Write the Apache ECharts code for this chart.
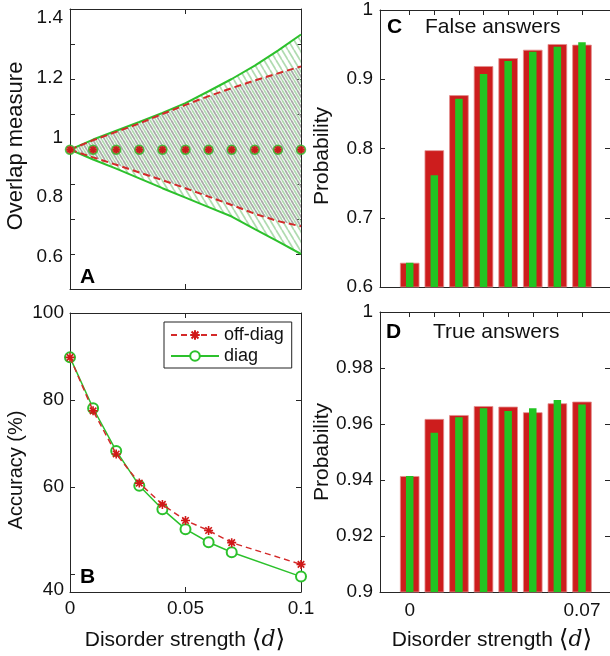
<!DOCTYPE html>
<html><head><meta charset="utf-8">
<script src="https://cdn.jsdelivr.net/npm/echarts@6/dist/echarts.min.js"></script>
<style>html,body{margin:0;padding:0;background:#fff}#c{width:610px;height:656px}</style>
</head><body><div id="c"></div>
<script>
// ---- Panel A: overlap measure vs disorder strength ----
const disorderA = [0, 0.01, 0.02, 0.03, 0.04, 0.05, 0.06, 0.07, 0.08, 0.09, 0.1];
const overlapMeanDiag = [0.998, 0.998, 0.998, 0.998, 0.998, 0.998, 0.998, 0.998, 0.998, 0.998, 0.998];
const overlapMeanOff  = [0.998, 0.998, 0.998, 0.998, 0.998, 0.998, 0.998, 0.998, 0.998, 0.998, 0.998];
const diagUpper = [0.998, 1.027, 1.052, 1.077, 1.103, 1.131, 1.165, 1.200, 1.238, 1.281, 1.327];
const diagLower = [0.998, 0.970, 0.944, 0.916, 0.888, 0.861, 0.834, 0.807, 0.771, 0.736, 0.700];
const offUpper  = [0.998, 1.025, 1.049, 1.073, 1.100, 1.126, 1.151, 1.174, 1.196, 1.216, 1.236];
const offLower  = [0.998, 0.976, 0.955, 0.933, 0.911, 0.888, 0.864, 0.840, 0.815, 0.794, 0.779];
const ticksA = [0.6, 0.8, 1, 1.2, 1.4];

// ---- Panel B: accuracy ----
const disorderB = [0, 0.01, 0.02, 0.03, 0.04, 0.05, 0.06, 0.07, 0.1];
const accuracyOff  = [89.8, 77.5, 67.6, 60.9, 56.0, 52.3, 50.0, 47.2, 42.2];
const accuracyDiag = [89.8, 78.1, 68.3, 60.3, 54.9, 50.3, 47.3, 45.0, 39.4];
const ticksB = [40, 60, 80, 100];

// ---- Panels C, D: probabilities ----
const disorderCD = [0, 0.01, 0.02, 0.03, 0.04, 0.05, 0.06, 0.07];
const falseOff  = [0.635, 0.7975, 0.877, 0.919, 0.9305, 0.9426, 0.9508, 0.9499];
const falseDiag = [0.635, 0.7614, 0.8717, 0.9075, 0.9262, 0.9397, 0.9469, 0.9533];
const trueOff   = [0.9414, 0.9618, 0.9632, 0.9664, 0.9662, 0.9642, 0.9674, 0.9680];
const trueDiag  = [0.9414, 0.9569, 0.9624, 0.9656, 0.9646, 0.9656, 0.9686, 0.9670];
const ticksC = [0.6, 0.7, 0.8, 0.9, 1];
const ticksD = [0.9, 0.92, 0.94, 0.96, 0.98, 1];
const labelsXD = [0, 0.07];

const RED = '#cd1d1d', GREEN = '#22c422', LRED = '#d42a2a', LGREEN = '#2cc12c';
const FONT = '"Liberation Sans", Arial, sans-serif';
const zip = (xs, ys) => xs.map((x, i) => [x, ys[i]]);

function stripes(color, off) {
  const c = document.createElement('canvas');
  c.width = 6; c.height = 10;
  const g = c.getContext('2d');
  g.strokeStyle = color; g.lineWidth = 1.7;
  for (const o of [-6, 0, 6]) {
    g.beginPath(); g.moveTo(o + off, 0); g.lineTo(o + off + 6, 10); g.stroke();
  }
  return c;
}
const ASTER = 'path://M0,-5L0,5M-5,0L5,0M-3.6,-3.6L3.6,3.6M3.6,-3.6L-3.6,3.6';

// band polygon: upper boundary left->right, then lower boundary right->left
const bandPoints = (xs, up, low) => zip(xs, up).concat(zip(xs, low).reverse());
function bandRender(pattern) {
  return function (params, api) {
    if (params.dataIndexInside !== 0) return null;
    const pts = [];
    for (let i = 0; i < params.dataInsideLength; i++) {
      pts.push(api.coord([api.value(0, i), api.value(1, i)]));
    }
    return {type: 'polygon', shape: {points: pts},
      style: {fill: {image: pattern, repeat: 'repeat'}, stroke: null}};
  };
}

const lineCol = '#262626';
function ax(grid, min, max, pos, extra) {
  return Object.assign({
    gridIndex: grid, type: 'value', min: min, max: max, position: pos,
    axisLine: {show: true, onZero: false, lineStyle: {color: lineCol, width: 1}},
    axisTick: {show: true, inside: true, length: 5, lineStyle: {color: lineCol}},
    axisLabel: {show: false},
    splitLine: {show: false}
  }, extra || {});
}
const lab = (extra) => Object.assign({show: true, fontSize: 19, fontFamily: FONT, color: '#111', margin: 7}, extra);
const tk = (vals) => ({show: true, inside: true, length: 5, customValues: vals, lineStyle: {color: lineCol}});

const tickAy = tk([0.7, 0.8, 0.9, 1.0, 1.1, 1.2, 1.3]);
const tickBy = tk([40, 60, 80]);
const tickCy = tk([0.7, 0.8, 0.9]);
const tickDy = tk([0.92, 0.94, 0.96, 0.98]);
const tickCDx = tk(disorderCD);
const cdMin = -0.012066, cdMax = 0.08138;

const option = {
  backgroundColor: '#fff',
  animation: false,
  grid: [
    {left: 70, top: 9, width: 231, height: 280},
    {left: 70, top: 313, width: 231, height: 279},
    {left: 380, top: 10, width: 230, height: 277},
    {left: 380, top: 312, width: 230, height: 280}
  ],
  xAxis: [
    ax(0, 0, 0.1, 'bottom', {interval: 0.05}),
    ax(0, 0, 0.1, 'top', {interval: 0.05}),
    ax(1, 0, 0.1, 'bottom', {interval: 0.05, axisLabel: lab({margin: 7})}),
    ax(1, 0, 0.1, 'top', {interval: 0.05}),
    ax(2, cdMin, cdMax, 'bottom', {axisTick: tickCDx}),
    ax(2, cdMin, cdMax, 'top', {axisTick: tickCDx}),
    ax(3, cdMin, cdMax, 'bottom', {axisTick: tickCDx, axisLabel: lab({margin: 9, customValues: labelsXD})}),
    ax(3, cdMin, cdMax, 'top', {axisTick: tickCDx})
  ],
  yAxis: [
    ax(0, 0.6, 1.4, 'left', {axisTick: tickAy}),
    ax(0, 0.6, 1.4, 'right', {axisTick: tickAy}),
    // label-only axis for panel A (labels sit where the reference prints them)
    ax(0, 0.4929, 1.4301, 'left', {axisLine: {show: false}, axisTick: {show: false},
      axisLabel: lab({customValues: ticksA})}),
    ax(1, 35.86, 100, 'left', {axisTick: tickBy,
      axisLabel: lab({margin: 6, customValues: [36.32, 60, 80, 100],
        formatter: v => String(ticksB.reduce((a, b) => Math.abs(b - v) < Math.abs(a - v) ? b : a))})}),
    ax(1, 35.86, 100, 'right', {axisTick: tickBy}),
    ax(2, 0.6, 1, 'left', {axisTick: tickCy, axisLabel: lab({customValues: ticksC})}),
    ax(2, 0.6, 1, 'right', {axisTick: tickCy}),
    ax(3, 0.9, 1, 'left', {axisTick: tickDy, axisLabel: lab({customValues: ticksD})}),
    ax(3, 0.9, 1, 'right', {axisTick: tickDy})
  ],
  legend: {
    data: ['off-diag', 'diag'],
    orient: 'vertical', left: 164, top: 322,
    backgroundColor: '#fff',
    borderColor: '#222', borderWidth: 1, borderRadius: 0,
    padding: [4, 8, 3, 6], itemGap: 3, itemWidth: 48, itemHeight: 12,
    textStyle: {fontSize: 18, fontFamily: FONT, color: '#111'}
  },
  series: [
    // Panel A hatched bands
    {type: 'custom', name: 'A diag band', xAxisIndex: 0, yAxisIndex: 0, z: 1,
      data: bandPoints(disorderA, diagUpper, diagLower), encode: {x: 0, y: 1},
      renderItem: bandRender(stripes('#b0dbb0', 0))},
    {type: 'custom', name: 'A off band', xAxisIndex: 0, yAxisIndex: 0, z: 2,
      data: bandPoints(disorderA, offUpper, offLower), encode: {x: 0, y: 1},
      renderItem: bandRender(stripes('#a9a9a9', 3))},
    // Panel A bound lines
    {type: 'line', name: 'A diag lower', xAxisIndex: 0, yAxisIndex: 0, data: zip(disorderA, diagLower),
      symbol: 'none', lineStyle: {color: LGREEN, width: 2}, z: 3},
    {type: 'line', name: 'A diag upper', xAxisIndex: 0, yAxisIndex: 0, data: zip(disorderA, diagUpper),
      symbol: 'none', lineStyle: {color: LGREEN, width: 2}, z: 3},
    {type: 'line', name: 'A off lower', xAxisIndex: 0, yAxisIndex: 0, data: zip(disorderA, offLower),
      symbol: 'none', lineStyle: {color: LRED, width: 2, type: [7, 4]}, z: 4},
    {type: 'line', name: 'A off upper', xAxisIndex: 0, yAxisIndex: 0, data: zip(disorderA, offUpper),
      symbol: 'none', lineStyle: {color: LRED, width: 2, type: [7, 4]}, z: 4},
    // Panel A means
    {type: 'scatter', name: 'A diag mean', xAxisIndex: 0, yAxisIndex: 0, data: zip(disorderA, overlapMeanDiag),
      symbol: 'circle', symbolSize: 9, itemStyle: {color: '#d83030', borderColor: LGREEN, borderWidth: 1.5}, z: 5},
    {type: 'scatter', name: 'A off mean', xAxisIndex: 0, yAxisIndex: 0, data: zip(disorderA, overlapMeanOff),
      symbol: ASTER, symbolSize: 7, itemStyle: {color: 'rgba(0,0,0,0)', borderColor: '#c41010', borderWidth: 1.6}, z: 6},
    // Panel B
    {type: 'line', name: 'diag', xAxisIndex: 2, yAxisIndex: 3, data: zip(disorderB, accuracyDiag),
      symbol: 'emptyCircle', symbolSize: 10, color: LGREEN,
      lineStyle: {color: LGREEN, width: 1.5}, itemStyle: {color: LGREEN, borderColor: LGREEN, borderWidth: 1.5}, z: 3},
    {type: 'line', name: 'off-diag', xAxisIndex: 2, yAxisIndex: 3, data: zip(disorderB, accuracyOff),
      symbol: ASTER, symbolSize: 9, color: LRED,
      lineStyle: {color: LRED, width: 1.5, type: [6, 4]}, itemStyle: {color: 'rgba(0,0,0,0)', borderColor: '#d01818', borderWidth: 1.6}, z: 4},
    // Panel C
    {type: 'bar', name: 'C off', xAxisIndex: 4, yAxisIndex: 5, data: zip(disorderCD, falseOff),
      barWidth: 19.5, itemStyle: {color: RED, borderColor: '#e28f8f', borderWidth: 0.8}, z: 2},
    {type: 'bar', name: 'C diag', xAxisIndex: 5, yAxisIndex: 5, data: zip(disorderCD, falseDiag),
      barWidth: 7.5, itemStyle: {color: GREEN}, z: 3},
    // Panel D
    {type: 'bar', name: 'D off', xAxisIndex: 6, yAxisIndex: 7, data: zip(disorderCD, trueOff),
      barWidth: 19.5, itemStyle: {color: RED, borderColor: '#e28f8f', borderWidth: 0.8}, z: 2},
    {type: 'bar', name: 'D diag', xAxisIndex: 7, yAxisIndex: 7, data: zip(disorderCD, trueDiag),
      barWidth: 7.5, itemStyle: {color: GREEN}, z: 3}
  ],
  graphic: [
    {type: 'text', x: 16, y: 146, rotation: Math.PI / 2, z: 10,
      style: {text: 'Overlap measure', font: '22px ' + FONT, fill: '#111', align: 'center', verticalAlign: 'middle'}},
    {type: 'text', x: 16, y: 470, rotation: Math.PI / 2, z: 10,
      style: {text: 'Accuracy (%)', font: '20px ' + FONT, fill: '#111', align: 'center', verticalAlign: 'middle'}},
    {type: 'text', x: 322, y: 156, rotation: Math.PI / 2, z: 10,
      style: {text: 'Probability', font: '21px ' + FONT, fill: '#111', align: 'center', verticalAlign: 'middle'}},
    {type: 'text', x: 322, y: 452, rotation: Math.PI / 2, z: 10,
      style: {text: 'Probability', font: '21px ' + FONT, fill: '#111', align: 'center', verticalAlign: 'middle'}},
    {type: 'text', x: 185, y: 640, z: 10,
      style: {text: 'Disorder strength {b|⟨}{i|d}{b|⟩}', font: '21px ' + FONT, fill: '#111', align: 'center', verticalAlign: 'middle',
        rich: {b: {font: '25px "DejaVu Sans"', fill: '#111'}, i: {font: 'italic 22px "DejaVu Serif"', fill: '#111'}}}},
    {type: 'text', x: 492, y: 640, z: 10,
      style: {text: 'Disorder strength {b|⟨}{i|d}{b|⟩}', font: '21px ' + FONT, fill: '#111', align: 'center', verticalAlign: 'middle',
        rich: {b: {font: '25px "DejaVu Sans"', fill: '#111'}, i: {font: 'italic 22px "DejaVu Serif"', fill: '#111'}}}},
    {type: 'text', x: 80, y: 277, z: 10, style: {text: 'A', font: 'bold 21px ' + FONT, fill: '#000', verticalAlign: 'middle'}},
    {type: 'text', x: 80, y: 577, z: 10, style: {text: 'B', font: 'bold 21px ' + FONT, fill: '#000', verticalAlign: 'middle'}},
    {type: 'text', x: 387, y: 27, z: 10, style: {text: 'C', font: 'bold 21px ' + FONT, fill: '#000', verticalAlign: 'middle'}},
    {type: 'text', x: 386, y: 332, z: 10, style: {text: 'D', font: 'bold 21px ' + FONT, fill: '#000', verticalAlign: 'middle'}},
    {type: 'text', x: 425, y: 27, z: 10, style: {text: 'False answers', font: '21px ' + FONT, fill: '#111', verticalAlign: 'middle'}},
    {type: 'text', x: 433, y: 332, z: 10, style: {text: 'True answers', font: '21px ' + FONT, fill: '#111', verticalAlign: 'middle'}}
  ]
};
const chart = echarts.init(document.getElementById('c'), null, {renderer: 'canvas'});
chart.setOption(option);
</script>
</body></html>
